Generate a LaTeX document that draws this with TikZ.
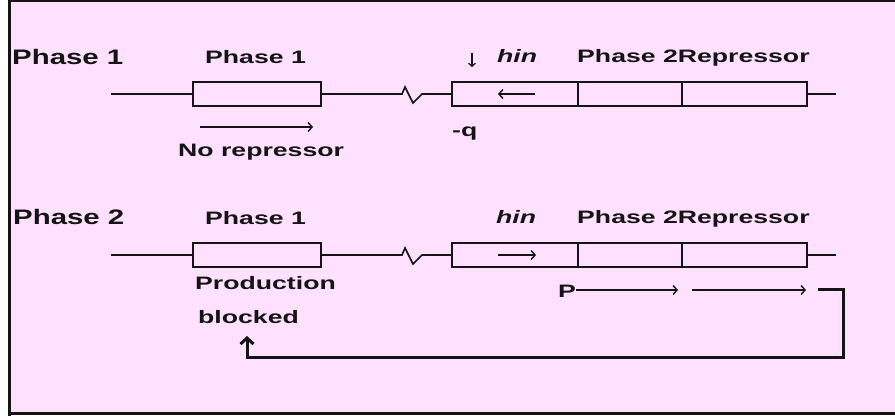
\documentclass[tikz,border=0pt]{standalone}
\usepackage{fontspec}
\setmainfont{Liberation Sans}
\newfontfamily\lblfont{Liberation Sans}[FakeStretch=1.48]
\newfontfamily\sidefont{Liberation Sans}[FakeStretch=1.4]
\usetikzlibrary{arrows.meta}
\definecolor{bgpink}{RGB}{255,225,255}
\definecolor{ink}{RGB}{20,20,20}

\begin{document}
\begin{tikzpicture}[x=1pt,y=-1pt,
  lbl/.style={inner sep=0pt, anchor=base west, text=ink,
    font=\lblfont\bfseries\fontsize{18}{20}\selectfont},
  lblit/.style={lbl, font=\lblfont\bfseries\itshape\fontsize{18}{20}\selectfont},
  side/.style={inner sep=0pt, anchor=base west, text=ink,
    font=\sidefont\bfseries\fontsize{21}{24}\selectfont},
  gene/.style={draw=ink, line width=1.6pt, minimum height=24pt, inner sep=0pt},
  dna/.style={draw=ink, line width=1.6pt},
  thinarrow/.style={draw=ink, line width=1.4pt,
    -{Straight Barb[length=4pt,width=9pt,line width=1.4pt]}},
  feedback/.style={draw=ink, line width=3pt, line join=miter,
    -{Straight Barb[length=6pt,width=13pt,line width=3pt]}}
]
\useasboundingbox (0,0) rectangle (895,416);

% panel
\fill[bgpink] (9,1) rectangle (895,414);
\draw[ink, line width=3pt] (9,0) -- (9,416);
\draw[ink, line width=2.5pt] (9,1) -- (895,1);
\draw[ink, line width=3pt] (9,413.5) -- (895,413.5);

% ---------- Phase 1 ----------
\node[side] (ph1) at (12,64) {Phase 1};
\node[lbl] (ph1a) at (205,63) {Phase 1};
\node[lblit] (hin1) at (497,62) {hin};
\node[lbl] (rep1) at (577,62) {Phase 2Repressor};

\node[gene, minimum width=128pt] (g1) at (257,94) {};
\node[gene, minimum width=126pt] (s11) at (515,94) {};
\node[gene, minimum width=104pt] (s12) at (630,94) {};
\node[gene, minimum width=125pt] (s13) at (744.5,94) {};

\coordinate (l1start) at (111,94);
\coordinate (l1end) at (836,94);
\coordinate (z1a) at (402,94);
\coordinate (z1d) at (422,94);
\draw[dna] (l1start) -- (g1.west);
\draw[dna] (g1.east) -- (z1a) -- (405,87) -- (413,103) -- (z1d) -- (s11.west);
\draw[dna] (s13.east) -- (l1end);

\coordinate (inv1a) at (535,94);
\coordinate (inv1b) at (498,94);
\draw[thinarrow] (inv1a) -- (inv1b);

\coordinate (site1a) at (472,53);
\coordinate (site1b) at (472,67);
\draw[draw=ink, line width=1.2pt, -{Straight Barb[length=3pt,width=7pt,line width=1.2pt]}] (site1a) -- (site1b);

\node[lbl] (q1) at (452,136) {-q};

\coordinate (tx1a) at (200,127);
\coordinate (tx1b) at (313,127);
\draw[thinarrow] (tx1a) -- (tx1b);
\node[lbl] (norep) at (178,156) {No repressor};

% ---------- Phase 2 ----------
\node[side] (ph2) at (13,224) {Phase 2};
\node[lbl] (ph2a) at (205,224) {Phase 1};
\node[lblit] (hin2) at (496,223) {hin};
\node[lbl] (rep2) at (577,223) {Phase 2Repressor};

\node[gene, minimum width=128pt] (g2) at (257,255) {};
\node[gene, minimum width=126pt] (s21) at (515,255) {};
\node[gene, minimum width=104pt] (s22) at (630,255) {};
\node[gene, minimum width=125pt] (s23) at (744.5,255) {};

\coordinate (l2start) at (111,255);
\coordinate (l2end) at (836,255);
\coordinate (z2a) at (402,255);
\coordinate (z2d) at (422,255);
\draw[dna] (l2start) -- (g2.west);
\draw[dna] (g2.east) -- (z2a) -- (405,248) -- (413,264) -- (z2d) -- (s21.west);
\draw[dna] (s23.east) -- (l2end);

\coordinate (inv2a) at (498,255);
\coordinate (inv2b) at (536,255);
\draw[thinarrow] (inv2a) -- (inv2b);

\node[lbl] (prom) at (558,297) {P};
\node[lbl] (prod) at (195,289) {Production};
\node[lbl] (blk) at (198,323) {blocked};

\coordinate (tx2b) at (678,290);
\coordinate (tx3a) at (692,290);
\coordinate (tx3b) at (806,290);
\draw[thinarrow] (prom.east |- tx2b) -- (tx2b);
\draw[thinarrow] (tx3a) -- (tx3b);

% repressor feedback loop
\coordinate (fb0) at (818,289);
\coordinate (fb1) at (843,289);
\coordinate (fb2) at (843,357);
\coordinate (fb3) at (247,357);
\coordinate (fb4) at (247,336);
\draw[feedback] (fb0) -- (fb1) -- (fb2) -- (fb3) -- (fb4);
\end{tikzpicture}
\end{document}
